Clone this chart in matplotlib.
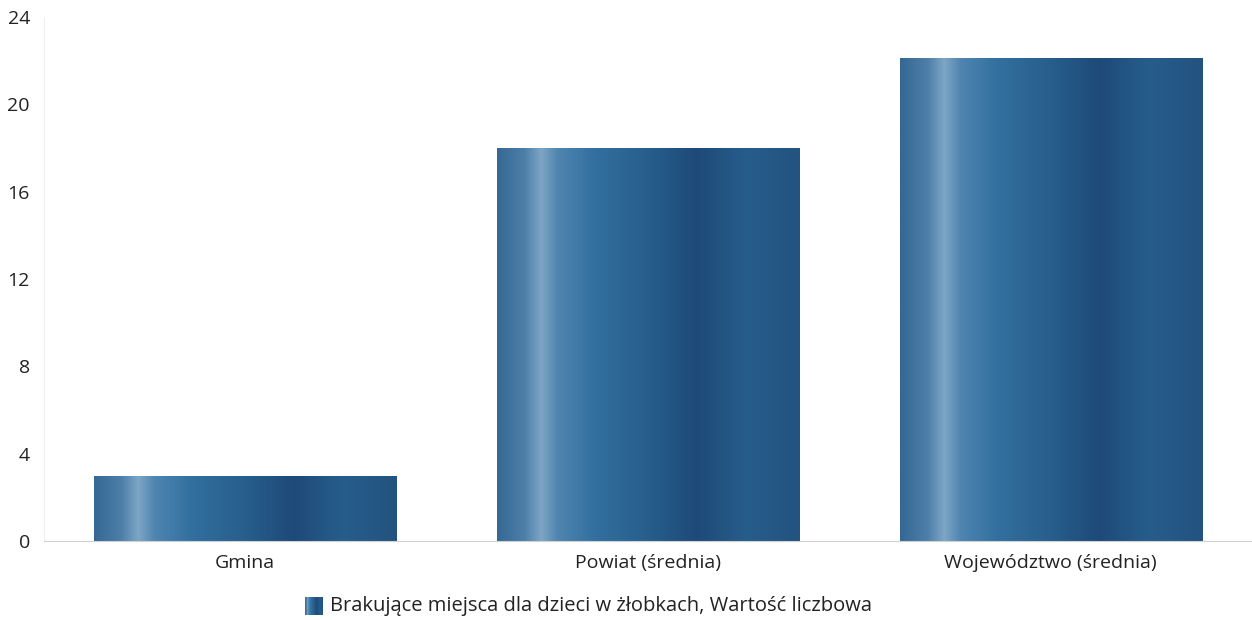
import numpy as np
import matplotlib
matplotlib.use("Agg")
import matplotlib.pyplot as plt
from matplotlib.colors import LinearSegmentedColormap

plt.rcParams['font.family'] = ['Open Sans', 'DejaVu Sans']

categories = ['Gmina', 'Powiat (średnia)', 'Województwo (średnia)']
values = [3, 18, 22.1]
yticks = [0, 4, 8, 12, 16, 20, 24]
series_label = 'Brakujące miejsca dla dzieci w żłobkach, Wartość liczbowa'

# horizontal shading inside each bar
cmap = LinearSegmentedColormap.from_list('bar', [
    (0.0, '#356893'), (0.09, '#4d7fa9'), (0.145, '#7ea6c5'), (0.20, '#4f85b0'),
    (0.32, '#3270a0'), (0.50, '#275e8c'), (0.66, '#1e4a78'), (0.82, '#275d8b'),
    (1.0, '#23537f')])
grad = np.linspace(0, 1, 256).reshape(1, -1)

fig = plt.figure(figsize=(12.52, 6.2), dpi=100)
ax = fig.add_axes([0.035, 0.1274, 0.965, 0.8452])

x = np.arange(len(categories))
width = 0.75
bars = ax.bar(x, values, width, color='none', edgecolor='none')
for b in bars:
    x0, y0 = b.get_x(), b.get_y()
    im = ax.imshow(grad, cmap=cmap, aspect='auto', interpolation='bilinear',
                   extent=[x0, x0 + b.get_width(), y0, y0 + b.get_height()], zorder=2)
    im.set_clip_path(b)

ax.set_xlim(-0.5, len(categories) - 0.5)
ax.set_ylim(0, 24)
ax.set_yticks(yticks)
ax.set_xticks(x)
ax.set_xticklabels(categories)
ax.tick_params(length=0, labelsize=14, colors='#222222', pad=9)
ax.tick_params(axis='y', pad=10)
for s in ['top', 'right']:
    ax.spines[s].set_visible(False)
ax.spines['left'].set_color('#eeeeee')
ax.spines['bottom'].set_color('#d0d0d0')

# legend: gradient swatch + text
lax = fig.add_axes([305 / 1252, 1 - 615 / 620, 18 / 1252, 18 / 620])
lax.imshow(grad, cmap=cmap, aspect='auto', interpolation='bilinear')
lax.axis('off')
fig.text(330 / 1252, 1 - 606 / 620, series_label, fontsize=14.5, color='#222222', va='center', ha='left')

fig.savefig('out.png', dpi=100)
